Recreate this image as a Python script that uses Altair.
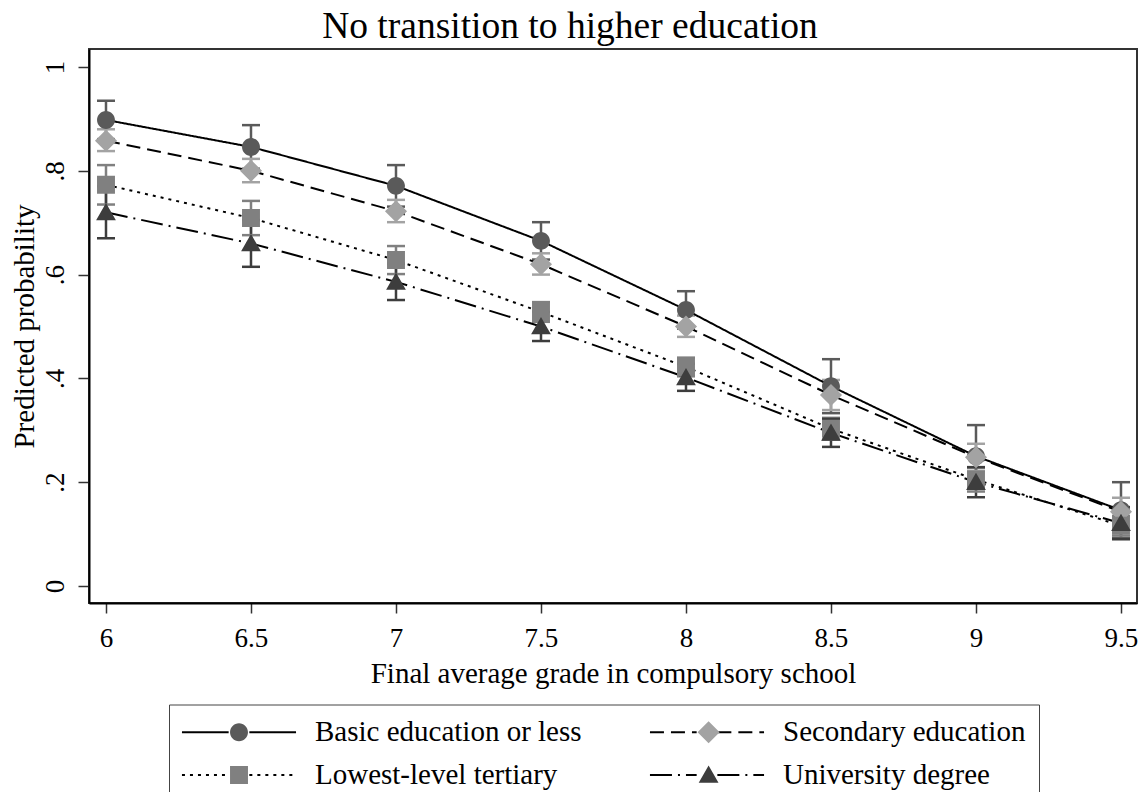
import altair as alt
import pandas as pd

# ---------------- data ----------------
grades = [6, 6.5, 7, 7.5, 8, 8.5, 9, 9.5]
series_names = ["Basic education or less", "Secondary education",
                "Lowest-level tertiary", "University degree"]

basic_p = [0.898, 0.846, 0.771, 0.665, 0.532, 0.385, 0.250, 0.146]
basic_lo = [0.861, 0.804, 0.731, 0.629, 0.496, 0.333, 0.190, 0.092]
basic_hi = [0.935, 0.888, 0.811, 0.701, 0.568, 0.437, 0.310, 0.200]

second_p = [0.858, 0.800, 0.722, 0.620, 0.500, 0.368, 0.248, 0.143]
second_lo = [0.838, 0.778, 0.701, 0.600, 0.480, 0.339, 0.222, 0.116]
second_hi = [0.880, 0.823, 0.744, 0.641, 0.521, 0.397, 0.274, 0.170]

tert_p = [0.773, 0.709, 0.628, 0.528, 0.422, 0.303, 0.205, 0.116]
tert_lo = [0.735, 0.676, 0.601, 0.509, 0.404, 0.282, 0.182, 0.097]
tert_hi = [0.811, 0.742, 0.655, 0.547, 0.440, 0.324, 0.228, 0.135]

univ_p = [0.720, 0.660, 0.586, 0.500, 0.402, 0.295, 0.200, 0.121]
univ_lo = [0.670, 0.615, 0.551, 0.472, 0.376, 0.268, 0.171, 0.090]
univ_hi = [0.770, 0.705, 0.621, 0.528, 0.428, 0.322, 0.229, 0.152]

y_ticks = [0, 0.2, 0.4, 0.6, 0.8, 1]

rows = []
for name, ps, los, his in zip(series_names,
                              [basic_p, second_p, tert_p, univ_p],
                              [basic_lo, second_lo, tert_lo, univ_lo],
                              [basic_hi, second_hi, tert_hi, univ_hi]):
    for g, p, lo, hi in zip(grades, ps, los, his):
        rows.append({"grade": g, "series": name, "series_l": name + " ",
                     "p": p, "lo": lo, "hi": hi})
df = pd.DataFrame(rows)

# ---------------- styles ----------------
FONT = "Liberation Serif"
marker_colors = ["#5a5a5a", "#a3a3a3", "#808080", "#3d3d3d"]
dashes = [[1, 0], [14, 7], [3, 5], [22, 6, 2, 6]]
# marker paths (unit box, scaled by sqrt(size)/2); the leading zero-area
# segments are invisible and only fix the legend entry's extent
EXT = "M-4.96,0L7.3,0M0,-1.26L0,1.26"
marker_paths = [
    EXT + "M0.78,0A0.78,0.78,0,1,1,-0.78,0A0.78,0.78,0,1,1,0.78,0Z",
    EXT + "M0,-0.96L0.96,0L0,0.96L-0.96,0Z",
    EXT + "M-0.78,-0.78L0.78,-0.78L0.78,0.78L-0.78,0.78Z",
    EXT + "M0,-0.82L0.86,0.68L-0.86,0.68Z",
]
legend_line = "M-4.96,0L-0.9,0M0.9,0L4.96,0"
SYM = 529

xscale = alt.Scale(domain=[5.9414, 9.5552], nice=False, zero=False)
yscale = alt.Scale(domain=[-0.0328, 1.0347], nice=False, zero=False)

x_axis = alt.Axis(values=grades, title="Final average grade in compulsory school",
                  tickSize=10, labelPadding=12, titlePadding=8, grid=False,
                  labelExpr="format(datum.value, '')")
y_axis = alt.Axis(values=y_ticks, title="Predicted probability", tickSize=11,
                  labelAngle=270, labelAlign="center", labelBaseline="bottom",
                  labelPadding=9, titlePadding=2, grid=False,
                  labelExpr="datum.value == 0 ? '0' : datum.value == 1 ? '1' : replace(format(datum.value, '.1f'), '0.', '.')")

X = alt.X("grade:Q", scale=xscale, axis=x_axis)


def Y(field):
    return alt.Y(f"{field}:Q", scale=yscale, axis=y_axis)


# error-bar colours: same mapping, domain listed in reverse so this
# (legend-less) scale is kept apart from the marker legend
stroke_enc = alt.Stroke("series:N",
                        scale=alt.Scale(domain=series_names[::-1], range=marker_colors[::-1]),
                        legend=None)

LEG_X, LEG_Y = 80, 655.5
common_leg = dict(title=None, orient="none", legendX=LEG_X, legendY=LEG_Y, columns=2,
                  direction="horizontal",
                  symbolSize=SYM, symbolOffset=42.5, labelOffset=61.5,
                  labelFont=FONT, labelFontSize=29, labelLimit=0,
                  rowPadding=13, padding=13)

leg_lines = alt.Legend(symbolType=legend_line, symbolStrokeWidth=2,
                       symbolStrokeColor="black", labelColor="black",
                       labelExpr="trim(datum.label)", columnPadding=63,
                       strokeColor="#444", **common_leg)
leg_marks = alt.Legend(symbolStrokeWidth=0, labelExpr="''", columnPadding=327.6,
                       **common_leg)

base = alt.Chart(df)

bars = base.mark_rule(strokeWidth=2.5).encode(x=X, y=Y("lo"), y2="hi:Q", stroke=stroke_enc)
cap_lo = base.mark_rule(strokeWidth=2.5, xOffset=-9, x2Offset=9).encode(
    x=X, x2="grade:Q", y=Y("lo"), stroke=stroke_enc)
cap_hi = base.mark_rule(strokeWidth=2.5, xOffset=-9, x2Offset=9).encode(
    x=X, x2="grade:Q", y=Y("hi"), stroke=stroke_enc)

lines = base.mark_line(color="black", strokeWidth=2).encode(
    x=X, y=Y("p"),
    strokeDash=alt.StrokeDash("series_l:N",
                              scale=alt.Scale(domain=[s + " " for s in series_names], range=dashes),
                              legend=leg_lines),
)

points = base.mark_point(filled=True, opacity=1, size=SYM).encode(
    x=X, y=Y("p"),
    shape=alt.Shape("series:N", scale=alt.Scale(domain=series_names, range=marker_paths),
                    legend=leg_marks),
    fill=alt.Fill("series:N", scale=alt.Scale(domain=series_names, range=marker_colors),
                  legend=leg_marks),
)

chart = alt.layer(bars, cap_lo, cap_hi, lines, points).properties(
    width=1048, height=554,
    autosize=alt.AutoSizeParams(type="none"),
    padding={"left": 81, "top": 41, "right": 2, "bottom": 189},
    title=alt.Title("No transition to higher education", font=FONT, fontSize=37.5,
                    fontWeight="normal", anchor="middle", frame="group", dx=-43,
                    offset=4, color="black"),
).configure_view(
    stroke="#333", strokeWidth=2
).configure_axis(
    labelFont=FONT, labelFontSize=27, labelColor="black",
    titleFont=FONT, titleFontSize=29, titleFontWeight="normal", titleColor="black",
    domainColor="black", domainWidth=2, tickColor="#333", tickWidth=1.5,
)

chart.save("out.html", embed_options={"renderer": "svg", "actions": False})
